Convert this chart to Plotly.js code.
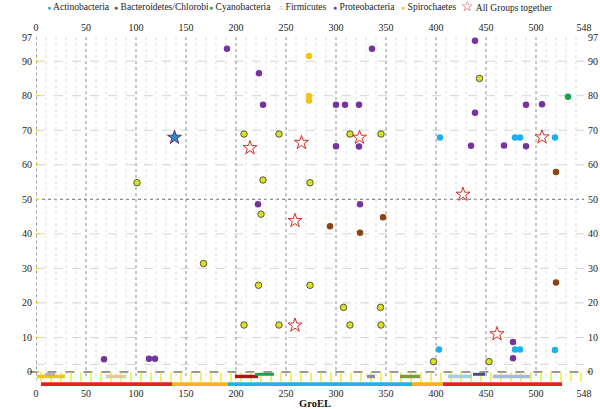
<!DOCTYPE html>
<html>
<head>
<meta charset="utf-8">
<script src="https://cdn.plot.ly/plotly-3.0.1.min.js"></script>
<style>html,body{margin:0;padding:0;background:#fff;}#chart{width:600px;height:409px;}</style>
</head>
<body>
<div id="chart"></div>
<script>
// ---- tick labels ----
const xTickVals = [0, 50, 100, 150, 200, 250, 300, 350, 400, 450, 500, 548];
const yTickVals = [0, 10, 20, 30, 40, 50, 60, 70, 80, 90, 97];

// ---- series (x = GroEL residue position, y = value) ----
const actinoX = [404, 479, 484, 519, 403, 479, 484, 519, 138.5];
const actinoY = [67.9, 67.9, 67.9, 67.9, 6.5, 6.5, 6.5, 6.4, 67.9];

const bactX = [294, 324, 347, 520, 520];
const bactY = [42.2, 40.3, 44.8, 57.9, 25.9];

const cyanoX = [532];
const cyanoY = [79.7];

const firmX = [101, 167.5, 208, 243, 314, 345, 227, 274, 225, 222.5, 274, 307.5, 344.5, 208, 243, 314, 345, 443.5, 397.5, 453];
const firmY = [54.8, 31.4, 68.9, 68.9, 68.9, 68.9, 55.6, 54.8, 45.7, 25.1, 25.1, 18.7, 18.7, 13.6, 13.6, 13.6, 13.6, 85.0, 3.0, 3.0];

const proteoX = [68, 113, 119, 191, 223, 227, 222, 300, 309, 323, 300, 323, 324, 336, 439, 439, 435, 468, 490, 490, 506, 477, 477, 138.5];
const proteoY = [3.7, 3.8, 3.8, 93.6, 86.5, 77.4, 48.6, 77.4, 77.4, 77.4, 65.4, 65.3, 48.6, 93.6, 95.9, 75.1, 65.5, 65.6, 65.4, 77.4, 77.5, 8.7, 4.0, 67.9];

const spiroX = [273, 273, 273];
const spiroY = [91.5, 79.9, 78.6];

const allX = [138.5, 214, 265.5, 323.5, 506, 259, 259, 427, 461];
const allY = [67.9, 64.9, 66.4, 67.9, 68.0, 43.8, 13.5, 51.4, 11.0];

// ---- GroEL domain track ----
const domainName  = ['Equatorial', 'Intermediate', 'Apical', 'Intermediate', 'Equatorial'];
const domainStart = [5, 136, 192, 376, 407];
const domainEnd   = [136, 192, 376, 407, 526];

// ---- motif track ----
const motifStart = [1, 9, 70, 199, 219, 331, 364, 412, 437, 457];
const motifEnd   = [29, 19, 90, 222, 238, 339, 384, 436, 449, 494];
const motifRow   = [0, 1, 0, 0, 1, 0, 0, 0, 1, 0];

// styles
const FONT = 'Liberation Serif';
const domainColor = {Equatorial: '#ee1d23', Intermediate: '#f8b514', Apical: '#1fb3e8'};
const motifColor = ['#f3c21b', '#b9b2a6', '#f2c1a0', '#b11218', '#1aa157', '#7d93b5', '#7f9a3a', '#9fd0db', '#4a4a8a', '#b7b0d6'];

const shapes = [];
// vertical grid
for (let v = 0; v <= 548; v += 10) {
  const major = v % 50 === 0;
  shapes.push({type: 'line', xref: 'x', yref: 'y', x0: v, x1: v, y0: -1.2, y1: 97, layer: 'below',
    line: {color: major ? '#8a8a8a' : '#dedede', width: 1, dash: 'dot'}});
}
// horizontal grid
const hMinor = [2.2, 10, 20, 30, 40, 60, 70, 80, 90];
hMinor.forEach(v => shapes.push({type: 'line', xref: 'paper', yref: 'y', x0: 0, x1: 1, y0: v, y1: v, layer: 'below',
  line: {color: '#d4d4d4', width: 1, dash: 'dash'}}));
shapes.push({type: 'line', xref: 'paper', yref: 'y', x0: 0, x1: 1, y0: 50, y1: 50, layer: 'below',
  line: {color: '#6e6e6e', width: 1, dash: 'dot'}});
shapes.push({type: 'line', xref: 'paper', yref: 'y', x0: -0.012, x1: 1.012, y0: 0, y1: 0, layer: 'below',
  line: {color: '#333', width: 1, dash: 'dash'}});
// left axis dotted line
shapes.push({type: 'line', xref: 'x', yref: 'y', x0: 0, x1: 0, y0: -2.6, y1: 97, layer: 'below',
  line: {color: '#888', width: 1, dash: 'dot'}});
// yellow ticks in the track
for (let v = 5; v < 548; v += 10) {
  shapes.push({type: 'line', xref: 'x', yref: 'y', x0: v, x1: v, y0: -0.1, y1: -2.8, layer: 'below',
    line: {color: '#f2e200', width: 1.2}});
}
// motifs
motifStart.forEach((s, i) => {
  const top = motifRow[i] ? -0.25 : -0.8;
  const bot = motifRow[i] ? -1.1 : -1.8;
  shapes.push({type: 'rect', xref: 'x', yref: 'y', x0: s, x1: motifEnd[i], y0: bot, y1: top,
    fillcolor: motifColor[i], line: {width: 0}, layer: 'above'});
});
// domains
domainStart.forEach((s, i) => {
  shapes.push({type: 'rect', xref: 'x', yref: 'y', x0: s, x1: domainEnd[i], y0: -4.06, y1: -2.95,
    fillcolor: domainColor[domainName[i]], line: {width: 0}, layer: 'above'});
});

function circ(name, x, y, color, lineColor) {
  return {type: 'scatter', mode: 'markers', name, x, y, showlegend: false, hoverinfo: 'x+y+name',
    marker: {symbol: 'circle', size: 6.5, color, line: {color: lineColor || color, width: lineColor ? 0.8 : 0}}};
}

const starFill = allX.map((_, i) => i === 0 ? '#2d8fbf' : '#ffffff');
const starLine = allX.map((_, i) => i === 0 ? '#6a2b8f' : '#d0312d');

const traces = [
  circ('Actinobacteria', actinoX, actinoY, '#1cb0ec'),
  circ('Proteobacteria', proteoX, proteoY, '#7433a0'),
  circ('Bacteroidetes/Chlorobi', bactX, bactY, '#8a4612'),
  circ('Cyanobacteria', cyanoX, cyanoY, '#13a54a'),
  circ('Firmicutes', firmX, firmY, '#dce31d', '#333333'),
  circ('Spirochaetes', spiroX, spiroY, '#f8c21a'),
  {type: 'scatter', mode: 'markers', name: 'All Groups together', x: allX, y: allY, showlegend: false,
    marker: {symbol: 'star', size: 10.5, color: starFill, line: {color: starLine, width: 1}}},
  {type: 'scatter', mode: 'markers', x: [], y: [], xaxis: 'x2', yaxis: 'y2', showlegend: false, hoverinfo: 'skip'}
];

// legend built from annotations
const legendItems = [
  {label: 'Actinobacteria', sym: '●', color: '#1cb0ec', px: 45},
  {label: 'Bacteroidetes/Chlorobi', sym: '●', color: '#8a4612', px: 112},
  {label: 'Cyanobacteria', sym: '●', color: '#13a54a', px: 207},
  {label: 'Firmicutes', sym: '○', color: '#9a9a10', px: 277},
  {label: 'Proteobacteria', sym: '●', color: '#7433a0', px: 331},
  {label: 'Spirochaetes', sym: '●', color: '#f8c21a', px: 399},
  {label: 'All Groups together', sym: '☆', color: '#d0312d', px: 459}
];
const annotations = legendItems.map(it => ({
  xref: 'paper', yref: 'paper', x: (it.px - 36) / 548, y: 1 + (37 - 7) / 349,
  xanchor: 'left', yanchor: 'middle', showarrow: false,
  text: '<span style="color:' + it.color + ';font-size:' + (it.sym === '☆' ? 14 : 7) + 'px">' + it.sym + '</span> ' + it.label,
  font: {family: FONT, size: 9.5, color: '#222'}
}));
annotations.push({xref: 'x', yref: 'paper', x: 279, y: -(404 - 386) / 349, xanchor: 'center', yanchor: 'middle',
  showarrow: false, text: '<b>GroEL</b>', font: {family: FONT, size: 10.5, color: '#111'}});

const tickFont = {family: FONT, size: 10, color: '#222'};
const xCommon = {range: [0, 548], tickmode: 'array', tickvals: xTickVals, ticktext: xTickVals.map(String),
  showgrid: false, zeroline: false, showline: false, ticks: '', tickfont: tickFont, fixedrange: true};
const yCommon = {range: [-4.06, 97], tickmode: 'array', tickvals: yTickVals, ticktext: yTickVals.map(String),
  showgrid: false, zeroline: false, showline: false, tickfont: tickFont, fixedrange: true};

const layout = {
  width: 600, height: 409,
  margin: {l: 36, r: 16, t: 37, b: 23, pad: 0},
  paper_bgcolor: '#fff', plot_bgcolor: '#fff',
  showlegend: false,
  xaxis: Object.assign({}, xCommon, {side: 'bottom', ticklabelstandoff: 0}),
  xaxis2: Object.assign({}, xCommon, {side: 'top', overlaying: 'x', anchor: 'y', ticklabelstandoff: 3}),
  yaxis: Object.assign({}, yCommon, {side: 'left', ticks: 'inside', ticklen: 3, tickcolor: '#e8dc00', ticklabelstandoff: 3}),
  yaxis2: Object.assign({}, yCommon, {side: 'right', overlaying: 'y', anchor: 'x', ticks: '', ticklabelstandoff: 3}),
  shapes, annotations
};

Plotly.newPlot('chart', traces, layout, {displayModeBar: false, staticPlot: true});
</script>
</body>
</html>
